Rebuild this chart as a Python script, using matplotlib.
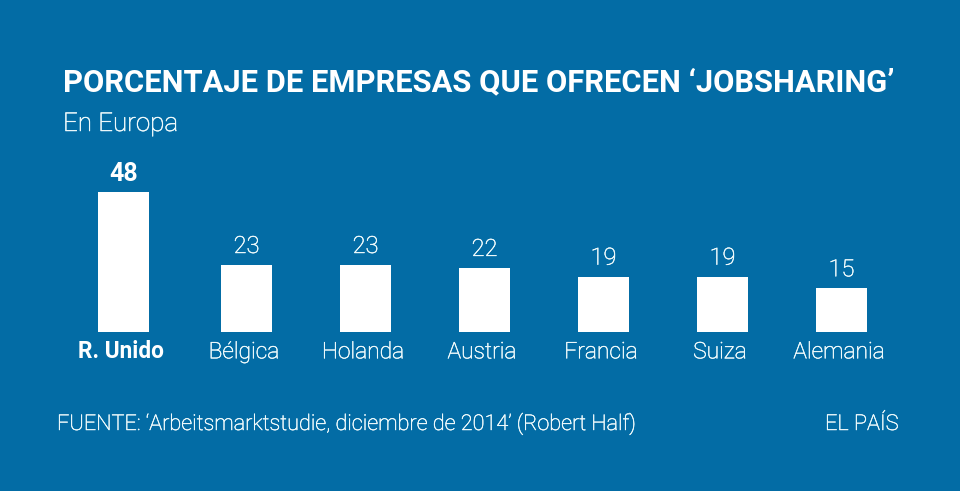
# -*- coding: utf-8 -*-

import numpy as np
import matplotlib.pyplot as plt
import matplotlib.patheffects as pe
from matplotlib.transforms import ScaledTranslation

paises = ['R. Unido', 'Bélgica', 'Holanda', 'Austria', 'Francia', 'Suiza', 'Alemania']
valores = [48, 23, 23, 22, 19, 19, 15]

titulo = 'PORCENTAJE DE EMPRESAS QUE OFRECEN ‘JOBSHARING’'
subtitulo = 'En Europa'
fuente = 'FUENTE: ‘Arbeitsmarktstudie, diciembre de 2014’ (Robert Half)'
firma = 'EL PAÍS'

FONDO = '#036ca5'
CLARO = '#f2fcfd'
W, H = 960, 491

plt.rcParams['font.family'] = ['Roboto', 'DejaVu Sans']

# light Roboto comes out thinner than the original type, so thicken it a touch
grueso = [pe.withStroke(linewidth=0.35, foreground=CLARO)]

fig = plt.figure(figsize=(W / 100, H / 100), dpi=100, facecolor=FONDO)
ax = fig.add_axes([68 / W, (H - 332) / H, 833 / W, 140 / H])
ax.set_facecolor('none')

# the first bar sits a little further left than the regular spacing
x = np.arange(len(paises), dtype=float)
x[0] -= 0.034

ax.bar(x, valores, width=0.43, color='white')
ax.set_xlim(-0.5, 6.5)
ax.set_ylim(0, 48)
for s in ax.spines.values():
    s.set_visible(False)
ax.set_yticks([])
ax.set_xticks(x)
ax.tick_params(axis='x', length=0, pad=6)
ax.set_xticklabels(paises, fontsize=16.4, color=CLARO, fontweight='light')

# names sit a bit left of their bars
for lab in ax.get_xticklabels():
    lab.set_transform(lab.get_transform() + ScaledTranslation(-2.5 / 100, 0, fig.dpi_scale_trans))
    lab.set_path_effects(grueso)
lab0 = ax.get_xticklabels()[0]
lab0.set_fontweight('bold')
lab0.set_color('white')
lab0.set_fontsize(16.3)
lab0.set_path_effects([])

for i, v in enumerate(valores):
    t = ax.annotate(str(v), (x[i], v), xytext=(0, 4 if i == 0 else 5), textcoords='offset points',
                    ha='center', va='bottom', clip_on=False,
                    fontsize=18 if i == 0 else 17,
                    color='white' if i == 0 else CLARO,
                    fontweight='bold' if i == 0 else 'light')
    if i > 0:
        t.set_path_effects(grueso)


def texto(px, py, s, **kw):
    return fig.text(px / W, 1 - py / H, s, va='baseline', **kw)


texto(63, 91, titulo, fontsize=22.2, fontweight='bold', color='white')
texto(63, 131, subtitulo, fontsize=18.7, fontweight='light', color=CLARO, path_effects=grueso)
texto(57, 430, fuente, fontsize=15.6, fontweight='light', color=CLARO, path_effects=grueso)
texto(825, 430, firma, fontsize=15.7, fontweight='light', color=CLARO, path_effects=grueso)

fig.savefig('out.png', dpi=100, facecolor=FONDO)
